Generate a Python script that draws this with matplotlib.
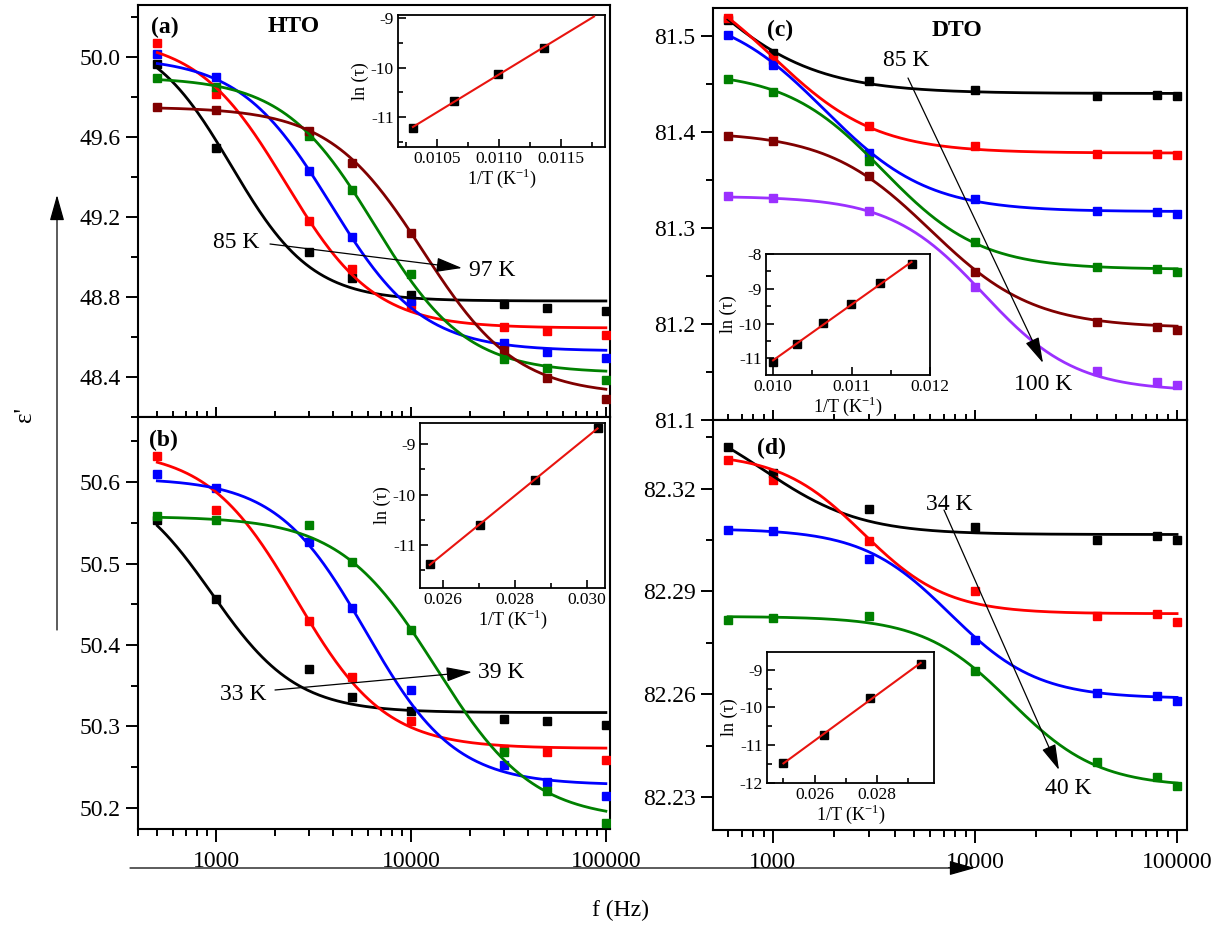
import matplotlib
matplotlib.use("Agg")
import matplotlib.pyplot as plt
import numpy as np
from matplotlib.patches import FancyArrowPatch
from matplotlib.ticker import (FixedLocator, FuncFormatter, LogLocator,
                               MultipleLocator, NullFormatter, FormatStrFormatter)

plt.rcParams["font.family"] = ["Liberation Serif", "DejaVu Serif"]
plt.rcParams["mathtext.fontset"] = "custom"
plt.rcParams["mathtext.rm"] = "Liberation Serif"
plt.rcParams["axes.unicode_minus"] = False

W, H = 1230, 940

# ---- data -------------------------------------------------------------
freq_hto = [500, 1000, 3000, 5000, 10000, 30000, 50000, 100000]
freq_dto = [600, 1000, 3000, 10000, 40000, 80000, 100000]

# (a) HTO, 85 K -> 97 K
eps_a = [
    [49.963, 49.547, 49.023, 48.893, 48.810, 48.763, 48.747, 48.732],
    [50.068, 49.813, 49.182, 48.938, 48.760, 48.652, 48.632, 48.610],
    [50.015, 49.902, 49.432, 49.102, 48.780, 48.568, 48.527, 48.493],
    [49.897, 49.852, 49.607, 49.335, 48.915, 48.490, 48.443, 48.385],
    [49.748, 49.735, 49.630, 49.472, 49.122, 48.535, 48.397, 48.288],
]
fit_s_a = [50.13, 50.10, 50.00, 49.90, 49.75]
fit_inf_a = [48.78, 48.645, 48.53, 48.42, 48.31]
fit_fc_a = [1200, 2270, 3870, 6510, 11530]
fit_n_a = [2.1, 1.9, 1.85, 1.85, 1.8]

# (b) HTO, 33 K -> 39 K
eps_b = [
    [50.553, 50.456, 50.370, 50.336, 50.319, 50.309, 50.307, 50.302],
    [50.632, 50.566, 50.430, 50.361, 50.307, 50.272, 50.268, 50.259],
    [50.610, 50.593, 50.526, 50.445, 50.345, 50.252, 50.232, 50.214],
    [50.559, 50.553, 50.547, 50.502, 50.419, 50.268, 50.221, 50.181],
]
fit_s_b = [50.61, 50.64, 50.605, 50.558]
fit_inf_b = [50.317, 50.273, 50.228, 50.185]
fit_fc_b = [950, 2575, 5870, 13500]
fit_n_b = [2.0, 1.9, 1.9, 1.75]

# (c) DTO, 85 K -> 100 K
eps_c = [
    [81.517, 81.482, 81.453, 81.444, 81.4375, 81.438, 81.437],
    [81.519, 81.475, 81.406, 81.385, 81.377, 81.377, 81.376],
    [81.501, 81.470, 81.378, 81.330, 81.318, 81.317, 81.315],
    [81.455, 81.442, 81.370, 81.285, 81.259, 81.257, 81.254],
    [81.396, 81.391, 81.354, 81.254, 81.202, 81.197, 81.194],
    [81.333, 81.331, 81.318, 81.239, 81.151, 81.140, 81.136],
]
fit_s_c = [81.659, 81.578, 81.529, 81.463, 81.40, 81.333]
fit_inf_c = [81.44, 81.378, 81.317, 81.257, 81.196, 81.13]
fit_fc_c = [400, 1000, 1800, 3500, 6000, 11000]
fit_n_c = [1.5, 1.7, 1.7, 1.8, 1.7, 1.9]

# (d) DTO, 34 K -> 40 K
eps_d = [
    [82.3320, 82.3245, 82.3140, 82.3087, 82.3049, 82.3063, 82.3049],
    [82.3283, 82.3226, 82.3046, 82.2900, 82.2827, 82.2835, 82.2812],
    [82.3080, 82.3077, 82.2995, 82.2759, 82.2603, 82.2596, 82.2581],
    [82.2817, 82.2822, 82.2827, 82.2668, 82.2401, 82.2359, 82.2333],
]
fit_s_d = [82.3442, 82.3303, 82.3083, 82.2827]
fit_inf_d = [82.3066, 82.2835, 82.2588, 82.233]
fit_fc_d = [900, 2800, 7500, 15000]
fit_n_d = [1.8, 2.1, 2.0, 2.0]

# insets: ln(tau) vs 1/T
temp_in_a = [97, 94, 91, 88]
lntau_a = [-11.22, -10.68, -10.136, -9.596]
fit_T_a = [97, 85]
temp_in_b = [39, 37, 35, 33]
lntau_b = [-11.38, -10.60, -9.70, -8.68]
fit_T_b = [39, 33]
temp_in_c = [100, 97, 94, 91, 88, 85]
lntau_c = [-11.10, -10.59, -9.98, -9.43, -8.83, -8.30]
fit_T_c = [100, 85]
temp_in_d = [40, 38, 36, 34]
lntau_d = [-11.47, -10.73, -9.75, -8.84]
fit_T_d = [40, 34]

colors = ["#000000", "#ff0000", "#0000ff", "#008000", "#800000", "#9b30ff"]


def px_box(left, top, right, bottom):
    return [left / W, 1 - bottom / H, (right - left) / W, (bottom - top) / H]


def fig_xy(x, y):
    return (x / W, 1 - y / H)


def draw_panel(ax, freqs, data, e_s, e_inf, fc, n, xlim, ylim, major, minor,
               fmt, bottom_panel):
    f_fit = np.logspace(np.log10(freqs[0]), np.log10(freqs[-1]), 300)
    for i, vals in enumerate(data):
        c = colors[i]
        ax.plot(freqs, vals, "s", color=c, ms=6, zorder=3)
        curve = e_inf[i] + (e_s[i] - e_inf[i]) / (1 + (f_fit / fc[i]) ** n[i])
        ax.plot(f_fit, curve, "-", color=c, lw=2.0, zorder=4)
    ax.set_xscale("log")
    ax.set_xlim(xlim)
    ax.set_ylim(ylim)
    ax.xaxis.set_major_locator(FixedLocator([1000, 10000, 100000]))
    ax.xaxis.set_major_formatter(FuncFormatter(lambda v, p: f"{v:.0f}"))
    ax.xaxis.set_minor_locator(LogLocator(base=10, subs=range(2, 10), numticks=20))
    ax.xaxis.set_minor_formatter(NullFormatter())
    ax.yaxis.set_major_locator(MultipleLocator(major))
    ax.yaxis.set_minor_locator(MultipleLocator(minor))
    ax.yaxis.set_major_formatter(FormatStrFormatter(fmt))
    ax.tick_params(axis="y", which="both", direction="out", left=True,
                   right=False, labelsize=17, width=1.4)
    ax.tick_params(axis="y", which="major", length=9)
    ax.tick_params(axis="y", which="minor", length=5)
    if bottom_panel:
        ax.tick_params(axis="x", which="both", direction="out", bottom=True,
                       top=False, labelsize=17, width=1.4, pad=7)
        ax.tick_params(axis="x", which="major", length=9)
        ax.tick_params(axis="x", which="minor", length=5)
    else:
        ax.tick_params(axis="x", which="both", direction="inout", bottom=True,
                       top=False, labelbottom=False, width=1.4)
        ax.tick_params(axis="x", which="major", length=14)
        ax.tick_params(axis="x", which="minor", length=9)
    for s in ax.spines.values():
        s.set_linewidth(1.5)


def draw_inset(box, temps, lntau, fit_T, xlim, ylim, xmaj, xmin, xfmt, ymin):
    ax = fig.add_axes(px_box(*box))
    inv_t = 1 / np.array(temps, dtype=float)
    slope, icpt = np.polyfit(inv_t, lntau, 1)
    x_fit = 1 / np.array(fit_T, dtype=float)
    ax.plot(inv_t, lntau, "s", color="black", ms=5.5, zorder=3)
    ax.plot(x_fit, slope * x_fit + icpt, "-", color="#e8140f", lw=1.5, zorder=4)
    ax.set_xlim(xlim)
    ax.set_ylim(ylim)
    ax.xaxis.set_major_locator(MultipleLocator(xmaj))
    ax.xaxis.set_minor_locator(MultipleLocator(xmin))
    ax.xaxis.set_major_formatter(FormatStrFormatter(xfmt))
    ax.yaxis.set_major_locator(MultipleLocator(1))
    ax.yaxis.set_minor_locator(MultipleLocator(ymin))
    ax.yaxis.set_major_formatter(FormatStrFormatter("%d"))
    ax.tick_params(which="both", direction="in", top=False, right=False,
                   labelsize=12.5, width=1.2, pad=3)
    ax.tick_params(which="major", length=6)
    ax.tick_params(which="minor", length=3.5)
    ax.set_xlabel("1/T (K$^{\\mathregular{-1}}$)", fontsize=13, labelpad=0)
    ax.set_ylabel("ln (\u03c4)", fontsize=13, labelpad=1)
    for s in ax.spines.values():
        s.set_linewidth(1.3)
    return ax


def arrow(x0, y0, x1, y1, hl=1.6, hw=0.45):
    fig.add_artist(FancyArrowPatch(
        fig_xy(x0, y0), fig_xy(x1, y1), transform=fig.transFigure,
        arrowstyle=f"-|>,head_length={hl},head_width={hw}",
        mutation_scale=10, lw=0.9, color="black", shrinkA=0, shrinkB=0))


def label(x, y, s, size=17, weight="normal", **kw):
    fig.text(*fig_xy(x, y), s, fontsize=size, fontweight=weight,
             ha="center", va="center", **kw)


fig = plt.figure(figsize=(W / 100, H / 100), dpi=100)

ax_a = fig.add_axes(px_box(138, 5, 610, 417))
ax_b = fig.add_axes(px_box(138, 417, 610, 829))
ax_c = fig.add_axes(px_box(713, 8, 1187, 420))
ax_d = fig.add_axes(px_box(713, 420, 1187, 830))

xl_left = (398, 105000)
xl_right = (505, 112000)
draw_panel(ax_a, freq_hto, eps_a, fit_s_a, fit_inf_a, fit_fc_a, fit_n_a,
           xl_left, (48.2, 50.26), 0.4, 0.2, "%.1f", False)
draw_panel(ax_b, freq_hto, eps_b, fit_s_b, fit_inf_b, fit_fc_b, fit_n_b,
           xl_left, (50.174, 50.68), 0.1, 0.05, "%.1f", True)
draw_panel(ax_c, freq_dto, eps_c, fit_s_c, fit_inf_c, fit_fc_c, fit_n_c,
           xl_right, (81.1, 81.529), 0.1, 0.05, "%.1f", False)
draw_panel(ax_d, freq_dto, eps_d, fit_s_d, fit_inf_d, fit_fc_d, fit_n_d,
           xl_right, (82.2204, 82.340), 0.03, 0.015, "%.2f", True)

draw_inset((398, 15, 605, 147), temp_in_a, lntau_a, fit_T_a,
           (0.010189, 0.011853), (-11.61, -8.93), 0.0005, 0.00025, "%.4f", 0.5)
draw_inset((420, 423, 605, 588), temp_in_b, lntau_b, fit_T_b,
           (0.02537, 0.03051), (-11.85, -8.58), 0.002, 0.001, "%.3f", 0.5)
draw_inset((766, 254, 930, 375), temp_in_c, lntau_c, fit_T_c,
           (0.00991, 0.012), (-11.48, -8.0), 0.001, 0.0005, "%.3f", 0.5)
draw_inset((767, 652, 934, 783), temp_in_d, lntau_d, fit_T_d,
           (0.02447, 0.02984), (-12.0, -8.53), 0.002, 0.001, "%.3f", 0.5)

# panel labels
label(165, 27, "(a)", weight="bold")
label(294, 27, "HTO", weight="bold")
label(163, 440, "(b)", weight="bold")
label(780, 30, "(c)", weight="bold")
label(957, 30, "DTO", weight="bold")
label(772, 448, "(d)", weight="bold")

# temperature arrows
label(236, 243, "85 K")
label(492, 271, "97 K")
arrow(270, 244, 462, 268)
label(243, 695, "33 K")
label(501, 672, "39 K")
arrow(275, 690, 472, 672)
label(906, 60, "85 K")
label(1043, 385, "100 K")
arrow(908, 78, 1043, 363)
label(949, 505, "34 K")
label(1068, 789, "40 K")
arrow(944, 510, 1059, 770)

# axis labels with arrows
label(25, 415, "\u03b5'", size=18, rotation=90)
arrow(57, 630, 57, 195)
label(620, 910, "f (Hz)", size=17)
arrow(130, 868, 975, 868)

fig.savefig("out.png", dpi=100)
